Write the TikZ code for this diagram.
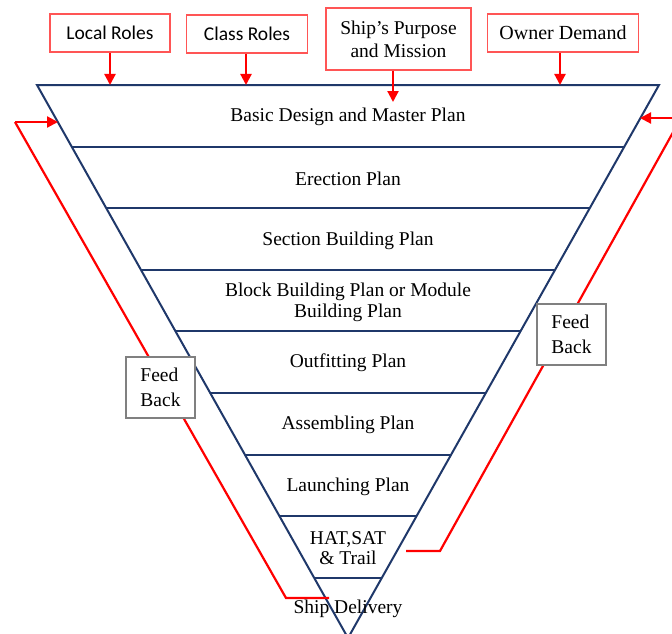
\documentclass[tikz,border=0pt]{standalone}
\usepackage{fontspec}
\setmainfont{Liberation Serif}
\newfontfamily\calibrifont{Carlito}
\usetikzlibrary{arrows.meta}
\definecolor{navyline}{RGB}{31,56,106}
\definecolor{boxred}{RGB}{255,85,85}
\definecolor{fbred}{RGB}{255,0,0}
\tikzset{
  band/.style={draw=navyline, line width=2pt},
  planlabel/.style={align=center, inner sep=0pt, yshift=-2pt, font=\fontsize{19.5}{21}\selectfont},
  inputbox/.style={draw=boxred, line width=1.3pt, fill=white, align=center, inner sep=0pt},
  inarrow/.style={draw=fbred, line width=2.2pt, -{Triangle[length=11pt,width=11pt]}},
  fbline/.style={draw=fbred, line width=2.2pt},
  fbbox/.style={draw=gray, line width=1.4pt, fill=white, align=left, inner sep=0pt,
    minimum width=69pt, minimum height=61pt, font=\fontsize{19.5}{25}\selectfont}
}

\begin{document}
\begin{tikzpicture}[x=1pt, y=-1pt]
    \useasboundingbox (0,0) rectangle (672,634);
    \clip (0,0) rectangle (672,634);
    \fill[white] (0,0) rectangle (672,634);

    % Inverted triangle with its bands
    \draw[band, line join=miter] (37,85) -- (659,85) -- (348,638) -- cycle;
    \foreach \k in {1,...,8} {
        \pgfmathsetmacro\yy{85+61.6*\k}
        \pgfmathsetmacro\dx{0.5624*(\yy-85)}
        \draw[band] ({37+\dx},\yy) -- ({659-\dx},\yy);
    }

    % Plan levels
    \node[planlabel] (basic)    at (348,115) {Basic Design and Master Plan};
    \node[planlabel] (erection) at (348,177) {Erection Plan};
    \node[planlabel] (section)  at (348,239) {Section Building Plan};
    \node[planlabel] (block)    at (348,300) {Block Building Plan or Module\\Building Plan};
    \node[planlabel] (outfit)   at (348,361) {Outfitting Plan};
    \node[planlabel] (assembly) at (348,423) {Assembling Plan};
    \node[planlabel] (launch)   at (348,485) {Launching Plan};
    \node[planlabel, font=\fontsize{19.5}{20}\selectfont] (hatsat) at (348,546) {HAT,SAT\\\& Trail};
    \node[planlabel] (delivery) at (348,607) {Ship Delivery};

    % Inputs on top
    \node[inputbox, minimum width=120pt, minimum height=38pt, font=\calibrifont\fontsize{19.5}{21}\selectfont]
        (localroles) at (110,33) {Local Roles};
    \node[inputbox, minimum width=121pt, minimum height=38pt, font=\calibrifont\fontsize{19.5}{21}\selectfont]
        (classroles) at (247,34) {Class Roles};
    \node[inputbox, minimum width=145pt, minimum height=62pt, font=\fontsize{19.5}{23}\selectfont]
        (purpose) at (398.5,39) {Ship's Purpose\\and Mission};
    \node[inputbox, minimum width=151pt, minimum height=38pt, font=\fontsize{20}{22}\selectfont]
        (owner) at (563,33) {Owner Demand};

    \coordinate (tipLocal)   at (110,85);
    \coordinate (tipClass)   at (246,85);
    \coordinate (tipPurpose) at (393,102);
    \coordinate (tipOwner)   at (560,85);
    \draw[inarrow] (localroles.south -| tipLocal) -- (tipLocal);
    \draw[inarrow] (classroles.south -| tipClass) -- (tipClass);
    \draw[inarrow] (purpose.south -| tipPurpose) -- (tipPurpose);
    \draw[inarrow] (owner.south -| tipOwner) -- (tipOwner);

    % Feed back, left side
    \coordinate (fbLstart)  at (329,598);
    \coordinate (fbLbottom) at (286,598);
    \coordinate (fbLtop)    at (15,122);
    \coordinate (fbLtip)    at (58,122);
    \draw[fbline] (fbLstart) -- (fbLbottom) -- (fbLtop);
    \draw[inarrow] (fbLtop) -- (fbLtip);
    \node[fbbox] (feedbackL) at (160.5,387.5) {Feed\\Back};

    % Feed back, right side
    \coordinate (fbRstart)  at (406,551);
    \coordinate (fbRbottom) at (440,551);
    \coordinate (fbRtop)    at (681,118);
    \coordinate (fbRtip)    at (640,118);
    \draw[fbline] (fbRstart) -- (fbRbottom) -- (fbRtop);
    \draw[inarrow] (fbRtop) -- (fbRtip);
    \node[fbbox] (feedbackR) at (571.5,334.5) {Feed\\Back};
\end{tikzpicture}
\end{document}
